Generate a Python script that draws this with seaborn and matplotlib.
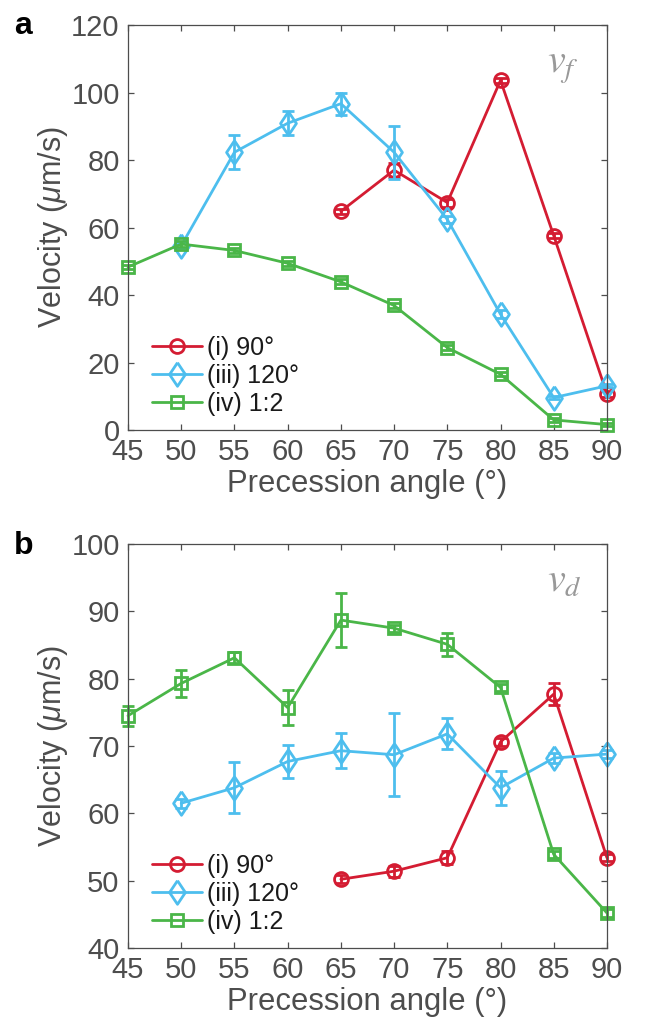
import numpy as np
import pandas as pd
import matplotlib
matplotlib.use("Agg")
import matplotlib.pyplot as plt
import seaborn as sns

# ---------------------------------------------------
# Data
# ---------------------------------------------------
angles_i = [65, 70, 75, 80, 85, 90]
angles_iii = [50, 55, 60, 65, 70, 75, 80, 85, 90]
angles_iv = [45, 50, 55, 60, 65, 70, 75, 80, 85, 90]

# panel a : v_f
vf_i = [64.8, 77.0, 67.4, 103.6, 57.6, 10.7]
vf_i_err = [0.8, 2.0, 1.2, 0.8, 0.8, 0.8]
vf_iii = [54.6, 82.3, 90.9, 96.7, 82.3, 62.4, 34.3, 9.6, 13.1]
vf_iii_err = [0.8, 5.0, 3.6, 3.3, 7.8, 1.0, 1.2, 0.5, 0.5]
vf_iv = [48.3, 55.1, 53.2, 49.4, 43.9, 36.9, 24.4, 16.5, 3.0, 1.6]
vf_iv_err = [0.6, 0.8, 0.8, 0.7, 0.7, 0.8, 0.7, 0.6, 0.5, 0.5]

# panel b : v_d
vd_i = [50.2, 51.4, 53.4, 70.6, 77.7, 53.4]
vd_i_err = [0.6, 0.8, 1.0, 0.6, 1.6, 0.5]
vd_iii = [61.5, 63.8, 67.7, 69.3, 68.7, 71.8, 63.8, 68.2, 68.8]
vd_iii_err = [0.7, 3.8, 2.5, 2.6, 6.2, 2.3, 2.5, 0.8, 0.6]
vd_iv = [74.5, 79.3, 83.1, 75.7, 88.7, 87.5, 85.1, 78.7, 53.9, 45.2]
vd_iv_err = [1.5, 2.0, 0.8, 2.6, 4.0, 0.5, 1.7, 0.5, 0.5, 0.6]

labels = ["(i) 90°", "(iii) 120°", "(iv) 1:2"]
colors = ["#D41C32", "#4DBEEE", "#4AB648"]

# matlab-like diamond (a bit taller than wide)
diamond = [(0, 1), (0.67, 0), (0, -1), (-0.67, 0), (0, 1)]
markers = ["o", diamond, "s"]
msizes = [10, 17, 9]

xticks = list(range(45, 95, 5))

# ---------------------------------------------------
# Style
# ---------------------------------------------------
sns.set_style("ticks")
plt.rcParams["font.family"] = ["Liberation Sans", "DejaVu Sans"]
plt.rcParams["mathtext.fontset"] = "custom"
plt.rcParams["mathtext.rm"] = "Liberation Sans"
plt.rcParams["mathtext.it"] = "Liberation Sans:italic"
plt.rcParams["xtick.direction"] = "in"
plt.rcParams["ytick.direction"] = "in"

grey = "#4D4D4D"

fig = plt.figure(figsize=(6.52, 10.18), dpi=100)
ax_a = fig.add_axes([0.1963, 0.5776, 0.7346, 0.3978])
ax_b = fig.add_axes([0.1963, 0.0688, 0.7346, 0.3968])


def draw_panel(ax, series, ylim, yticks, sub):
    for (x, y, e), lab, c, m, ms in zip(series, labels, colors, markers, msizes):
        df = pd.DataFrame({"angle": x, "v": y})
        sns.lineplot(data=df, x="angle", y="v", ax=ax, color=c, marker=m,
                     markersize=ms, markerfacecolor="none", markeredgecolor=c,
                     markeredgewidth=2.0, linewidth=2.0, label=lab,
                     clip_on=False)
        eb = ax.errorbar(x, y, yerr=e, fmt="none", ecolor=c, elinewidth=2.0,
                         capsize=4.2, capthick=2.0)
        for art in eb.lines[1] + eb.lines[2]:
            art.set_clip_on(False)
    ax.set_xlim(45, 90)
    ax.set_ylim(*ylim)
    ax.set_xticks(xticks)
    ax.set_yticks(yticks)
    ax.tick_params(axis="both", which="both", top=True, right=True,
                   length=4.5, width=0.9, color=grey, labelcolor=grey,
                   labelsize=21, pad=6)
    for s in ax.spines.values():
        s.set_visible(True)
        s.set_color(grey)
        s.set_linewidth(0.9)
    ax.set_xlabel("Precession angle (°)", fontsize=22.3, color=grey, labelpad=2)
    ax.set_ylabel("Velocity ($\\mu$m/s)", fontsize=22, color=grey, labelpad=1)
    leg = ax.legend(loc="lower left", bbox_to_anchor=(0.05, 0.035),
                    frameon=False, fontsize=18, handlelength=2.0,
                    handletextpad=0.2, labelspacing=0.16, borderpad=0,
                    borderaxespad=0)
    for t in leg.get_texts():
        t.set_color("#1A1A1A")
    ax.text(0.875, 0.882, sub, transform=ax.transAxes, fontsize=29,
            color="#999999", math_fontfamily="stix", ha="left", va="baseline")


draw_panel(ax_a,
           [(angles_i, vf_i, vf_i_err), (angles_iii, vf_iii, vf_iii_err),
            (angles_iv, vf_iv, vf_iv_err)],
           (0, 120), list(range(0, 121, 20)), "$v_f$")
draw_panel(ax_b,
           [(angles_i, vd_i, vd_i_err), (angles_iii, vd_iii, vd_iii_err),
            (angles_iv, vd_iv, vd_iv_err)],
           (40, 100), list(range(40, 101, 10)), "$v_d$")

fig.text(0.022, 0.967, "a", fontsize=23, fontweight="bold", color="black")
fig.text(0.022, 0.456, "b", fontsize=23, fontweight="bold", color="black")

fig.savefig("out.png", dpi=100)
